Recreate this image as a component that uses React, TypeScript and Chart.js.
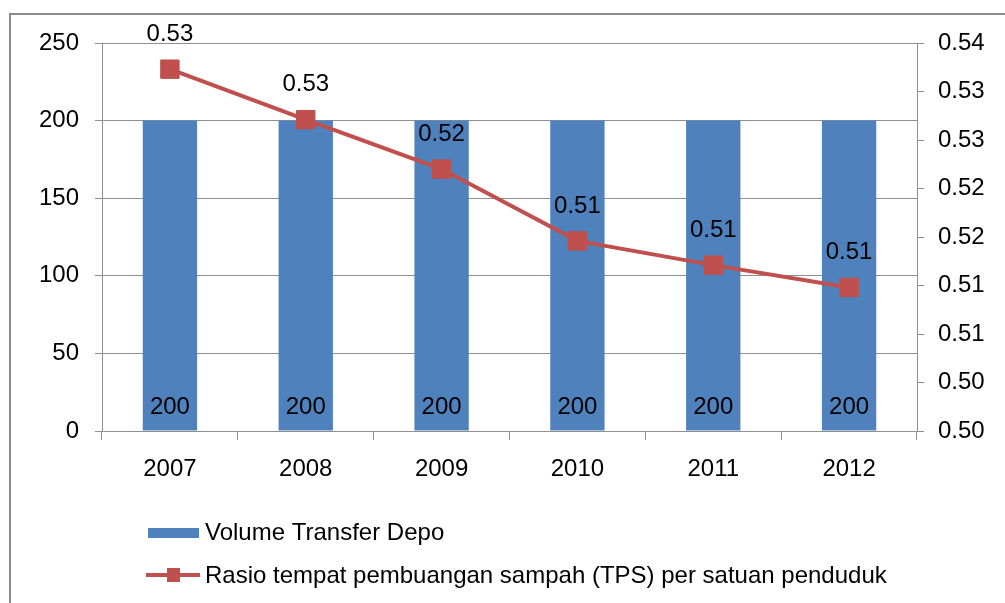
import React, { useEffect, useRef } from "react";
import { Chart, registerables } from "chart.js";

Chart.register(...registerables);

const categories = ["2007", "2008", "2009", "2010", "2011", "2012"];
const volumeValues = [200, 200, 200, 200, 200, 200];
const ratioValues = [0.5323, 0.5271, 0.522, 0.5146, 0.5121, 0.5098];
const ratioLabels = ["0.53", "0.53", "0.52", "0.51", "0.51", "0.51"];
const rightTickLabels = ["0.50", "0.50", "0.51", "0.51", "0.52", "0.52", "0.53", "0.53", "0.54"];
const leftTicks = { min: 0, max: 250, step: 50 };
const rightTicks = { min: 0.495, max: 0.535, step: 0.005 };
const seriesNames = [
  "Volume Transfer Depo",
  "Rasio tempat pembuangan sampah (TPS) per satuan penduduk",
];

const BLUE = "#4F81BD";
const RED = "#C0504D";
const GRID = "#8f8f8f";
const FONT = "'Liberation Sans', Arial, sans-serif";
const FS = 24;

export default function App() {
  const ref = useRef<HTMLCanvasElement | null>(null);

  useEffect(() => {
    const canvas = ref.current;
    if (!canvas) return;

    const framePlugin = {
      id: "frame",
      beforeDraw(chart: any) {
        const ctx = chart.ctx;
        ctx.save();
        ctx.fillStyle = "#ffffff";
        ctx.fillRect(0, 0, chart.width, chart.height);
        ctx.strokeStyle = "#8a8a8a";
        ctx.lineWidth = 2;
        ctx.beginPath();
        ctx.moveTo(10, chart.height + 5);
        ctx.lineTo(10, 14);
        ctx.lineTo(chart.width + 5, 14);
        ctx.stroke();
        ctx.restore();
      },
    };

    const labelPlugin = {
      id: "valueLabels",
      afterDatasetsDraw(chart: any) {
        const ctx = chart.ctx;
        ctx.save();
        ctx.font = `${FS}px ${FONT}`;
        ctx.fillStyle = "#000000";
        ctx.textAlign = "center";
        ctx.textBaseline = "middle";
        const barMeta = chart.getDatasetMeta(1);
        barMeta.data.forEach((el: any, i: number) => {
          ctx.fillText(String(volumeValues[i]), el.x, chart.chartArea.bottom - 24);
        });
        const lineMeta = chart.getDatasetMeta(0);
        lineMeta.data.forEach((el: any, i: number) => {
          ctx.fillText(ratioLabels[i], el.x, el.y - 35);
        });
        ctx.restore();
      },
      afterDraw(chart: any) {
        const ctx = chart.ctx;
        ctx.save();
        // legend
        ctx.fillStyle = BLUE;
        ctx.fillRect(148, 528, 51, 10);
        ctx.strokeStyle = RED;
        ctx.lineWidth = 4;
        ctx.beginPath();
        ctx.moveTo(146, 575);
        ctx.lineTo(200, 575);
        ctx.stroke();
        ctx.fillStyle = RED;
        ctx.fillRect(167, 568, 13, 14);
        ctx.font = `${FS}px ${FONT}`;
        ctx.fillStyle = "#000000";
        ctx.textAlign = "left";
        ctx.textBaseline = "middle";
        ctx.fillText(seriesNames[0], 205, 533);
        ctx.fillText(seriesNames[1], 205, 576);
        ctx.restore();
      },
    };

    const chart = new Chart(canvas, {
      type: "bar",
      data: {
        labels: categories,
        datasets: [
          {
            type: "line",
            label: seriesNames[1],
            data: ratioValues,
            yAxisID: "y1",
            borderColor: RED,
            backgroundColor: RED,
            borderWidth: 4,
            pointStyle: "rect",
            pointRadius: 13,
            pointBorderWidth: 1,
            pointBorderColor: RED,
            pointBackgroundColor: RED,
            tension: 0,
            order: 0,
          } as any,
          {
            type: "bar",
            label: seriesNames[0],
            data: volumeValues,
            yAxisID: "y",
            backgroundColor: BLUE,
            barPercentage: 0.4,
            categoryPercentage: 1.0,
            order: 1,
          },
        ],
      },
      options: {
        responsive: false,
        animation: false,
        devicePixelRatio: 1,
        layout: { padding: { top: 43, bottom: 112, left: 0, right: 0 } },
        plugins: {
          legend: { display: false },
          tooltip: { enabled: false },
          title: { display: false },
        },
        font: { family: FONT },
        scales: {
          x: {
            offset: true,
            grid: {
              offset: true,
              drawOnChartArea: false,
              drawTicks: true,
              tickLength: 9,
              color: GRID,
            },
            border: { color: GRID, width: 1 },
            ticks: { font: { family: FONT, size: FS }, color: "#000", padding: 15 },
            afterFit(scale: any) {
              scale.height = 60;
            },
          },
          y: {
            position: "left",
            min: leftTicks.min,
            max: leftTicks.max,
            ticks: {
              stepSize: leftTicks.step,
              font: { family: FONT, size: FS },
              color: "#000",
              padding: 16,
            },
            grid: { color: GRID, tickLength: 7 },
            border: { color: GRID, width: 1 },
            afterFit(scale: any) {
              scale.width = 102;
            },
          },
          y1: {
            position: "right",
            min: rightTicks.min,
            max: rightTicks.max,
            ticks: {
              stepSize: rightTicks.step,
              font: { family: FONT, size: FS },
              color: "#000",
              padding: 14,
              callback: (_v: any, i: number) => rightTickLabels[i],
            },
            grid: { drawOnChartArea: false, color: GRID, tickLength: 7 },
            border: { color: GRID, width: 1 },
            afterFit(scale: any) {
              scale.width = 88;
            },
          },
        },
      } as any,
      plugins: [framePlugin, labelPlugin],
    });

    return () => chart.destroy();
  }, []);

  return (
    <div style={{ position: "absolute", left: 0, top: 0, width: 1005, height: 603 }}>
      <canvas ref={ref} width={1005} height={603} style={{ display: "block" }} />
    </div>
  );
}
